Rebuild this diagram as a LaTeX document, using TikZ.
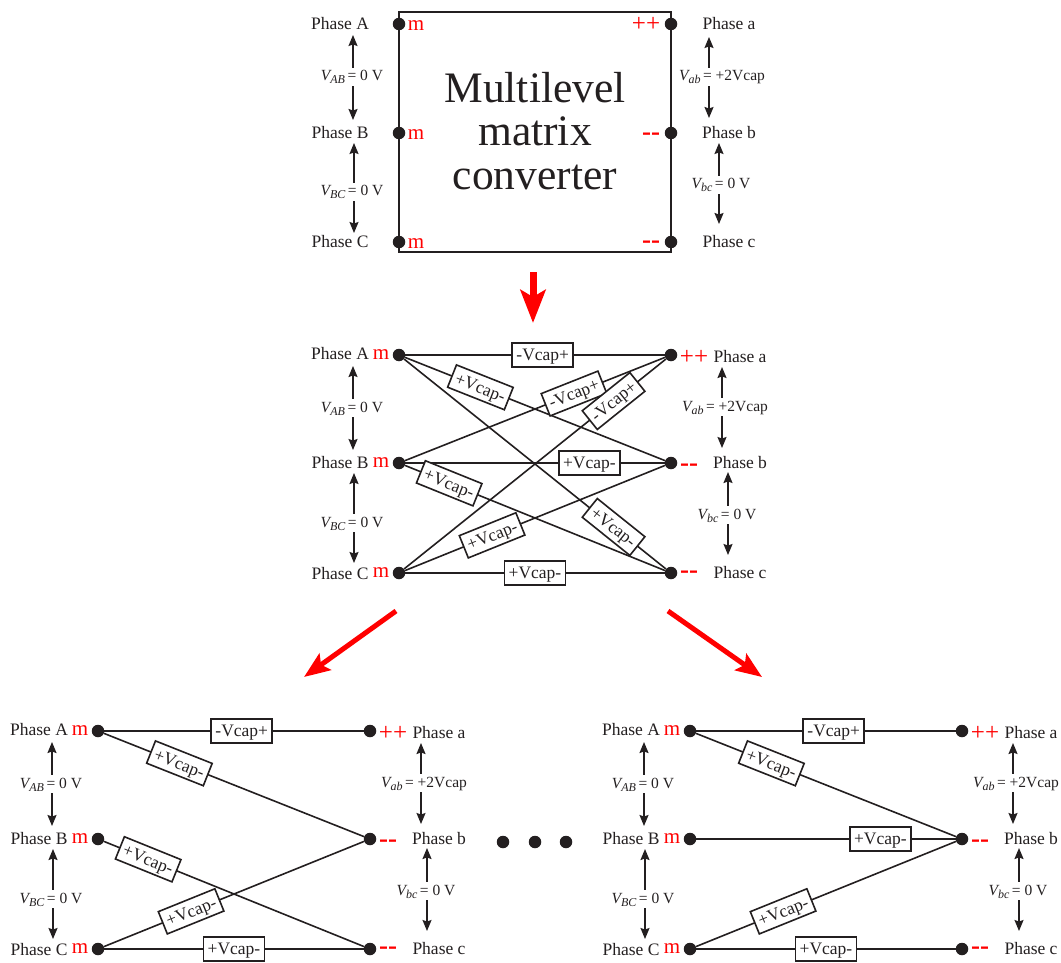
\documentclass[tikz,border=0pt]{standalone}
\usepackage{fontspec}
\setmainfont{Liberation Serif}
\usetikzlibrary{arrows.meta}
\definecolor{ink}{HTML}{231F20}
\tikzset{
  dotnode/.style={circle,fill=ink,inner sep=0pt,minimum size=12.5pt},
  phasename/.style={text=ink,inner sep=0pt,yshift=-1pt,font=\fontsize{17.5}{18}\selectfont},
  voltlabel/.style={text=ink,inner sep=0pt,text height=11pt,text depth=3pt,minimum height=18pt,font=\fontsize{15.5}{16}\selectfont},
  voltarrow/.style={ink,line width=1.5pt,-{Stealth[length=11pt,width=9pt,inset=1.5pt]}},
  marklevel/.style={red,inner sep=0pt,yshift=-3pt,font=\fontsize{21}{22}\selectfont},
  markplus/.style={red,inner sep=0pt,font=\fontsize{25}{26}\selectfont},
  markminus/.style={red,inner sep=0pt,yshift=-5pt,font=\fontsize{27}{28}\selectfont\bfseries},
  wire/.style={ink,line width=1.6pt},
  capbox/.style={draw=ink,fill=white,text=ink,line width=1.6pt,inner sep=0pt,text height=11.6pt,text depth=0pt,
                 minimum width=61pt,minimum height=24pt,font=\fontsize{17.5}{18}\selectfont},
  flowdown/.style={red,line width=7pt,-{Stealth[length=33pt,width=25pt,inset=7pt]}},
  flowside/.style={red,line width=5pt,-{Stealth[length=26pt,width=20pt,inset=5pt]}}
}
\newcommand{\voltname}[1]{{\itshape V}\raisebox{-3pt}{\fontsize{12}{12}\selectfont\itshape #1}\,=}
%% names, dots and voltages shared by the three lower panels
\newcommand{\phasepanel}{
  \foreach \pname/\ptext/\py in {A/A/353,B/B/462,C/C/573}
    \node[phasename] (name\pname) at (340,\py) {Phase \ptext};
  \foreach \pname/\py in {a/356,b/462,c/572}
    \node[phasename] (name\pname) at (740,\py) {Phase \pname};
  \foreach \pname/\py in {A/355,B/463,C/573}
  {
    \node[dotnode] (\pname) at (399,\py) {};
    \node[marklevel] (m\pname) at (381,\py-3) {m};
  }
  \foreach \pname/\py in {a/355,b/463,c/573}
    \node[dotnode] (\pname) at (671,\py) {};
  \node[markplus] (ma) at (694,357) {++};
  \node[markminus] (mb) at (689,463) {-{}-};
  \node[markminus] (mc) at (689,570) {-{}-};
  \foreach \vname/\vtext/\vx/\vy/\ax/\atip/\abot in
    {vAB/{\voltname{AB} 0 V}/352/408/353/366/450,
     vBC/{\voltname{BC} 0 V}/352/523/354/473/563,
     vab/{\voltname{ab} +2Vcap}/725/407/722/367/448,
     vbc/{\voltname{bc} 0 V}/727/515/728/472/555}
  {
    \node[voltlabel] (\vname) at (\vx,\vy) {\vtext};
    \coordinate (\vname up) at (\ax,\atip);
    \coordinate (\vname down) at (\ax,\abot);
    \draw[voltarrow] (\vname.north -| \vname up) -- (\vname up);
    \draw[voltarrow] (\vname.south -| \vname down) -- (\vname down);
  }
}
\begin{document}
\begin{tikzpicture}[x=1pt,y=-1pt]
\useasboundingbox (0,0) rectangle (1061,963);

%% converter block
\node[draw=ink,line width=1.6pt,minimum width=272pt,minimum height=240pt,inner sep=0pt] (conv) at (535,132) {};
\node[align=center,text=ink,inner sep=0pt,font=\fontsize{43.5}{43.5}\selectfont] (convname) at (535,131)
      {Multilevel\\matrix\\converter};
\foreach \pname/\py in {A/24,B/133,C/242}
{
  \node[dotnode] (top\pname) at (399,\py) {};
  \node[phasename] (topname\pname) at (340,\py-1) {Phase \pname};
  \node[marklevel] (topm\pname) at (416,\py-1) {m};
}
\foreach \pname/\py in {a/24,b/133,c/242}
{
  \node[dotnode] (top\pname) at (671,\py) {};
  \node[phasename] (topname\pname) at (729,\py-1) {Phase \pname};
}
\node[markplus] (topma) at (646,24) {++};
\node[markminus] (topmb) at (651,132) {-{}-};
\node[markminus] (topmc) at (651,240) {-{}-};
\foreach \vname/\vtext/\vx/\vy/\ax/\atip/\abot in
  {topvAB/{\voltname{AB} 0 V}/352/77/353/35/120,
   topvBC/{\voltname{BC} 0 V}/352/192/354/143/233,
   topvab/{\voltname{ab} +2Vcap}/722/77/709/37/118,
   topvbc/{\voltname{bc} 0 V}/721/185/719/143/224}
{
  \node[voltlabel] (\vname) at (\vx,\vy) {\vtext};
  \coordinate (\vname up) at (\ax,\atip);
  \coordinate (\vname down) at (\ax,\abot);
  \draw[voltarrow] (\vname.north -| \vname up) -- (\vname up);
  \draw[voltarrow] (\vname.south -| \vname down) -- (\vname down);
}

%% all switches
\begin{scope}[name prefix=mid]
  \phasepanel
  \draw[wire] (midA) -- node[capbox,pos=.53] {-Vcap+} (mida);
  \draw[wire] (midA) -- node[capbox,sloped,pos=.29] {+Vcap-} (midb);
  \draw[wire] (midA) -- node[capbox,sloped,pos=.80] {+Vcap-} (midc);
  \draw[wire] (midB) -- node[capbox,sloped,pos=.65] {-Vcap+} (mida);
  \draw[wire] (midB) -- node[capbox,pos=.71] {+Vcap-} (midb);
  \draw[wire] (midB) -- node[capbox,sloped,pos=.17] {+Vcap-} (midc);
  \draw[wire] (midC) -- node[capbox,sloped,pos=.80] {-Vcap+} (mida);
  \draw[wire] (midC) -- node[capbox,sloped,pos=.335] {+Vcap-} (midb);
  \draw[wire] (midC) -- node[capbox,pos=.5] {+Vcap-} (midc);
\end{scope}

%% lower left
\begin{scope}[shift={(-301,376)},name prefix=left]
  \phasepanel
  \draw[wire] (leftA) -- node[capbox,pos=.53] {-Vcap+} (lefta);
  \draw[wire] (leftA) -- node[capbox,sloped,pos=.29] {+Vcap-} (leftb);
  \draw[wire] (leftB) -- node[capbox,sloped,pos=.17] {+Vcap-} (leftc);
  \draw[wire] (leftC) -- node[capbox,sloped,pos=.335] {+Vcap-} (leftb);
  \draw[wire] (leftC) -- node[capbox,pos=.5] {+Vcap-} (leftc);
\end{scope}

%% lower right
\begin{scope}[shift={(291,376)},name prefix=right]
  \phasepanel
  \draw[wire] (rightA) -- node[capbox,pos=.53] {-Vcap+} (righta);
  \draw[wire] (rightA) -- node[capbox,sloped,pos=.29] {+Vcap-} (rightb);
  \draw[wire] (rightB) -- node[capbox,pos=.71] {+Vcap-} (rightb);
  \draw[wire] (rightC) -- node[capbox,sloped,pos=.335] {+Vcap-} (rightb);
  \draw[wire] (rightC) -- node[capbox,pos=.5] {+Vcap-} (rightc);
\end{scope}

%% red arrows and dots
\coordinate (flow1a) at (533,272);
\coordinate (flow1b) at (533,323);
\coordinate (flow2a) at (396,611);
\coordinate (flow2b) at (304,677);
\coordinate (flow3a) at (668,611);
\coordinate (flow3b) at (762,677);
\draw[flowdown] (flow1a) -- (flow1b);
\foreach \nflow in {2,3}
  \draw[flowside] (flow\nflow a) -- (flow\nflow b);
\foreach \ndot/\dx in {1/503,2/535,3/566}
  \node[dotnode] (gap\ndot) at (\dx,842) {};
\end{tikzpicture}
\end{document}
